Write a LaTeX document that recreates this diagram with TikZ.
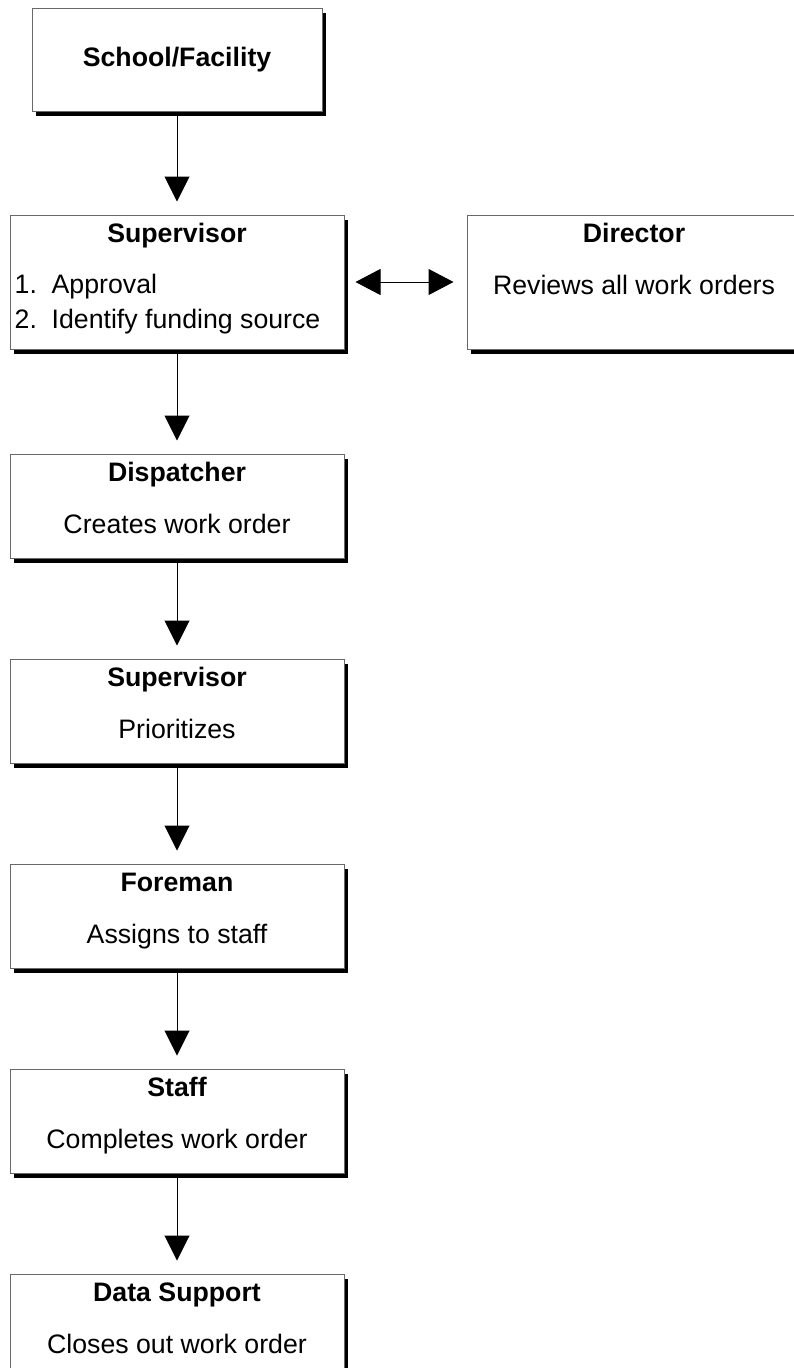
\documentclass[tikz,border=0pt]{standalone}
\usepackage{fontspec}
\setmainfont{Liberation Sans}
\usepackage{tikz}
\usetikzlibrary{arrows.meta, positioning, shadows}
\definecolor{edgegray}{RGB}{105,105,105}
\newcommand{\flowfont}{\fontsize{26.7}{34}\selectfont}

\begin{document}
\begin{tikzpicture}[
  x=1pt, y=1pt,
  font=\flowfont,
  box/.style={draw=edgegray, line width=1pt, fill=white, inner sep=0pt,
    minimum width=334pt, minimum height=104pt,
    drop shadow={shadow xshift=4pt, shadow yshift=-5pt, fill=black, opacity=1}},
  boxhead/.style={font=\flowfont\bfseries, inner sep=0pt,
    text height=19pt, text depth=0pt},
  boxtext/.style={font=\flowfont, inner sep=0pt,
    text height=19pt, text depth=0pt},
  arr/.style={-{Triangle[length=25pt, width=25pt]}, line width=1pt, shorten >=13pt},
  link/.style={{Triangle[length=25pt, width=26pt]}-{Triangle[length=25pt, width=26pt]},
    line width=1pt, shorten <=11pt, shorten >=13pt},
  node distance=100pt
]
  \useasboundingbox (0,0) rectangle (794,-1368);

  % request comes in
  \node[box, minimum width=290pt, minimum height=103pt, font=\flowfont\bfseries]
    (school) at (177,-59.5) {School/Facility};

  % first check by the supervisor
  \node[box, minimum height=134pt, below=103pt of school] (sup1) {};
  \node[boxhead, below=8.5pt of sup1.north] (sup1Head) {Supervisor};
  \node[boxtext, below right=60pt and 5pt of sup1.north west] (sup1One)
    {\makebox[37pt][l]{1.}Approval};
  \node[boxtext, below right=15pt and 0pt of sup1One.south west] (sup1Two)
    {\makebox[37pt][l]{2.}Identify funding source};

  \node[box, minimum height=134pt, right=122pt of sup1] (dir) {};
  \node[boxhead, below=8.5pt of dir.north] (dirHead) {Director};
  \node[boxtext, below=33pt of dirHead] (dirText) {Reviews all work orders};

  % the work order chain
  \node[box, below=104pt of sup1] (disp) {};
  \node[boxhead, below=8.5pt of disp.north] (dispHead) {Dispatcher};
  \node[boxtext, below=33pt of dispHead] (dispText) {Creates work order};

  \node[box, below=of disp] (sup2) {};
  \node[boxhead, below=8.5pt of sup2.north] (sup2Head) {Supervisor};
  \node[boxtext, below=33pt of sup2Head] (sup2Text) {Prioritizes};

  \node[box, below=of sup2] (fore) {};
  \node[boxhead, below=8.5pt of fore.north] (foreHead) {Foreman};
  \node[boxtext, below=33pt of foreHead] (foreText) {Assigns to staff};

  \node[box, below=of fore] (staff) {};
  \node[boxhead, below=8.5pt of staff.north] (staffHead) {Staff};
  \node[boxtext, below=33pt of staffHead] (staffText) {Completes work order};

  \node[box, below=of staff] (data) {};
  \node[boxhead, below=8.5pt of data.north] (dataHead) {Data Support};
  \node[boxtext, below=33pt of dataHead] (dataText) {Closes out work order};

  \draw[arr] (school) -- (sup1);
  \draw[link] (sup1) -- (dir);
  \draw[arr] (sup1) -- (disp);
  \draw[arr] (disp) -- (sup2);
  \draw[arr] (sup2) -- (fore);
  \draw[arr] (fore) -- (staff);
  \draw[arr] (staff) -- (data);
\end{tikzpicture}
\end{document}
